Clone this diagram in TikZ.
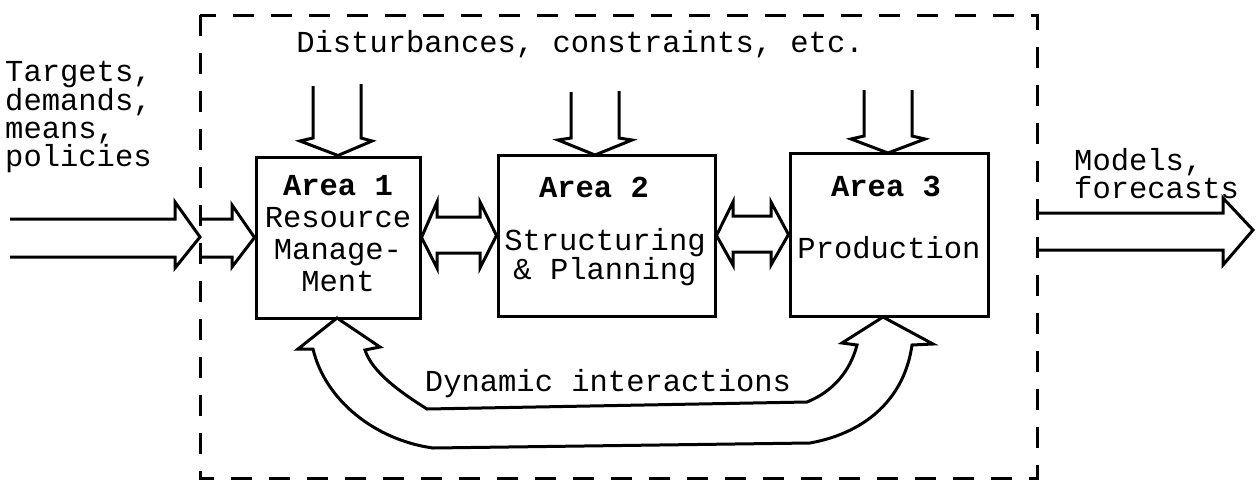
\documentclass[tikz,border=0pt]{standalone}
\usepackage{fontspec}
\setmonofont{Liberation Mono}
\begin{document}
\begin{tikzpicture}[x=1pt,y=-1pt,
  txt/.style={font=\ttfamily\fontsize{30.5}{26}\selectfont, inner sep=0pt, anchor=base},
  area/.style={font=\ttfamily\bfseries\fontsize{30.5}{26}\selectfont, inner sep=0pt, anchor=base},
  blk/.style={draw, line width=3pt, inner sep=0pt},
  fat/.style={draw, line width=3pt, line join=miter},
  frame/.style={draw, line width=3pt, dash pattern=on 21pt off 17pt}]
\useasboundingbox (0,0) rectangle (1256,485);

% outer dashed frame
\draw[frame] (200,15) rectangle (1037,478);

% blocks
\node[blk, minimum width=164pt, minimum height=161pt] (b1) at (338,237.5) {};
\node[blk, minimum width=217pt, minimum height=161pt] (b2) at (606.5,235.5) {};
\node[blk, minimum width=198pt, minimum height=163pt] (b3) at (889,234.5) {};

% block texts
\node[txt, anchor=north, align=center, font=\ttfamily\fontsize{30.5}{32}\selectfont] (t1) at (338,175)
  {\textbf{Area 1}\\Resource\\Manage-\\Ment};
\node[area] (a2) at (594,197) {Area 2};
\node[txt, anchor=north, align=center, font=\ttfamily\fontsize{30.5}{29}\selectfont] (t2) at (605,228)
  {Structuring\\\& Planning};
\node[area] (a3) at (886,196) {Area 3};
\node[txt] (p3) at (889,258) {Production};

% outside texts
\node[txt] (dist) at (580,52) {Disturbances, constraints, etc.};
\node[txt, anchor=north west, align=left, font=\ttfamily\fontsize{30.5}{27.5}\selectfont] (tin) at (5,61)
  {Targets,\\demands,\\means,\\policies};
\node[txt, anchor=north west, align=left, font=\ttfamily\fontsize{30.5}{26}\selectfont] (tout) at (1074,148)
  {Models,\\forecasts};
\node[txt] (dyn) at (608,391) {Dynamic interactions};

% named points
\coordinate (in0) at (200,237);
\coordinate (t2tip) at (595,155);
\coordinate (t3tip) at (888,153);
\coordinate (c1) at (337,318);
\coordinate (c3) at (883,317);

% input arrows
\draw[fat] (10,219) -- (175,219) -- (175,202) -- (in0) -- (175,268) -- (175,257) -- (10,257);
\draw[fat] (200,219) -- (232,219) -- (232,205) -- (b1.west) -- (232,267) -- (232,257) -- (200,257);

% disturbance arrows
\draw[fat] (313,86) -- (313,138) -- (300,141) -- (b1.north) -- (372,141) -- (361,138) -- (361,84);
\draw[fat] (571,92) -- (571,138) -- (558,140) -- (t2tip) -- (632,140) -- (619,138) -- (619,91);
\draw[fat] (864,90) -- (864,136) -- (851,139) -- (t3tip) -- (925,139) -- (912,136) -- (912,90);

% double arrows between blocks
\draw[fat] (b1.east) -- (437,202) -- (437,217) -- (480,217) -- (480,202) -- (b2.west)
  -- (480,268) -- (480,253) -- (437,253) -- (437,268) -- cycle;
\draw[fat] (b2.east) -- (733,202) -- (733,216) -- (771,216) -- (771,202) -- (b3.west)
  -- (771,265) -- (771,252) -- (733,252) -- (733,265) -- cycle;

% output arrow
\draw[fat] (1038,213) -- (1223,213) -- (1223,198) -- (1253,230) -- (1223,265) -- (1223,250) -- (1038,250);

% dynamic interactions double arrow
\draw[fat] (c1) -- (298,349) -- (313,349) .. controls (325,400) and (375,440) .. (433,448)
  -- (810,443) .. controls (870,432) and (905,395) .. (912,345) -- (933,344) -- (c3)
  -- (842,343) -- (857,345) .. controls (850,372) and (832,392) .. (807,402)
  -- (427,409) .. controls (400,392) and (372,372) .. (365,350) -- (380,347) -- cycle;
\end{tikzpicture}
\end{document}
